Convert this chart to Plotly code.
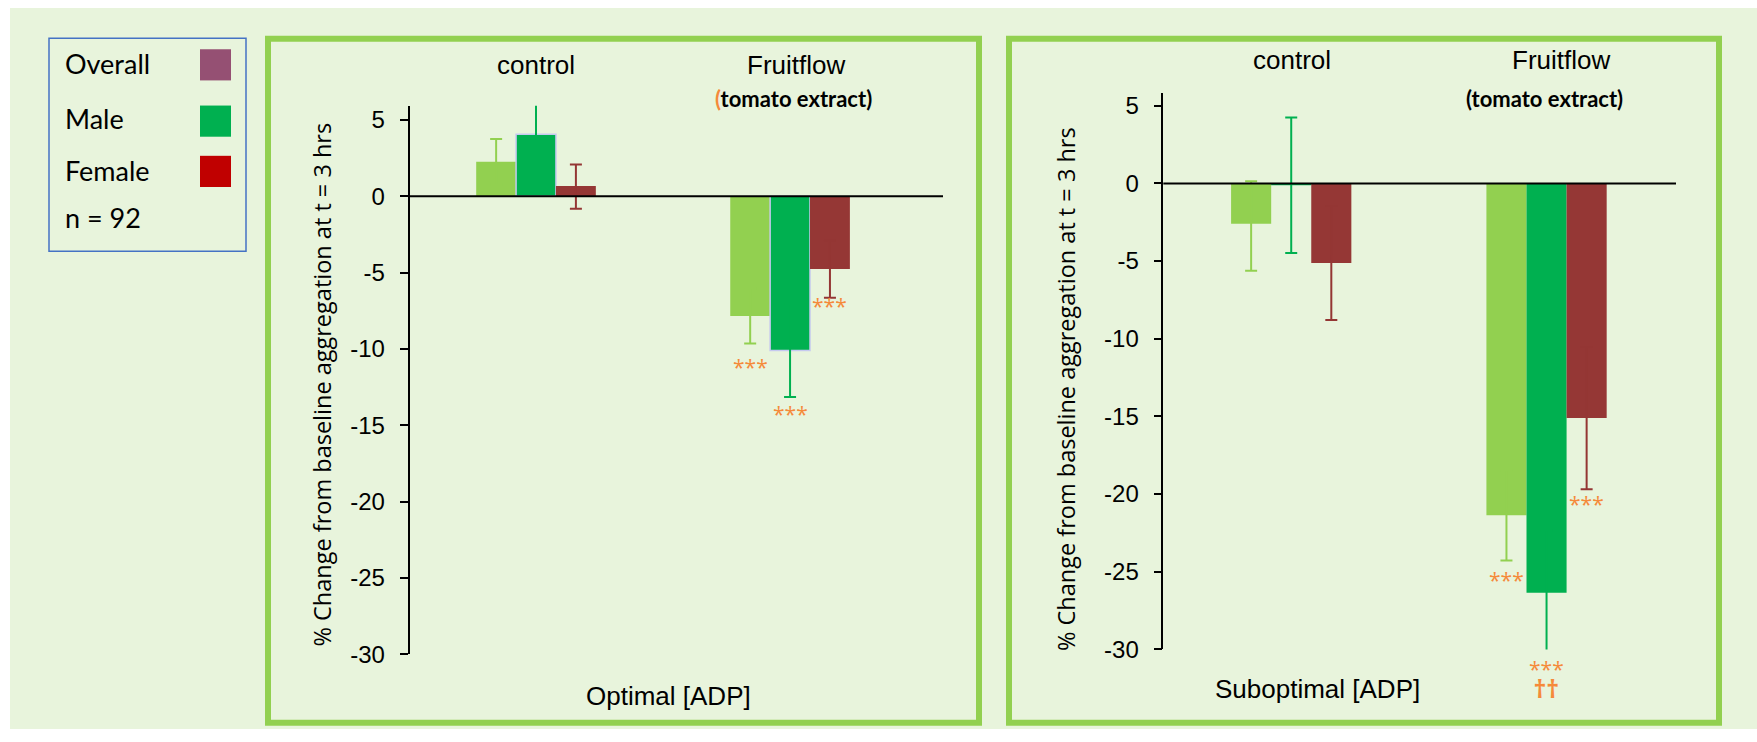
import plotly.graph_objects as go

W, H = 1757, 742
# the photographed page is squeezed vertically by about this factor; pre-stretch layout positions
KY = 0.976

# ---------------- data ----------------
categories = ["control", "Fruitflow"]
series_names = ["Overall", "Male", "Female"]
tick_values = [5, 0, -5, -10, -15, -20, -25, -30]
tick_labels = ["5", "0", "-5", "-10", "-15", "-20", "-25", "-30"]

# Optimal [ADP]
opt_overall = [2.26, -7.84]
opt_overall_up = [1.49, 1.80]
opt_overall_dn = [1.49, 1.80]
opt_male = [4.06, -10.10]
opt_male_up = [2.60, 3.05]
opt_male_dn = [2.60, 3.05]
opt_female = [0.68, -4.77]
opt_female_up = [1.40, 1.88]
opt_female_dn = [1.49, 1.88]

# Suboptimal [ADP]
sub_overall = [-2.60, -21.37]
sub_overall_up = [2.74, 2.91]
sub_overall_dn = [3.02, 2.91]
sub_male = [-0.12, -26.36]
sub_male_up = [4.36, 4.00]
sub_male_dn = [4.36, 4.00]
sub_female = [-5.12, -15.11]
sub_female_up = [3.67, 4.58]
sub_female_dn = [3.67, 4.58]

# significance marks (Fruitflow group): label heights in data units
opt_sig_text = ["***", "***", "***"]
opt_sig_y = [-11.3, -14.35, -7.3]
sub_sig_text = ["***", "***<br>††", "***"]
sub_sig_y = [-25.6, -31.4, -20.74]

legend_labels = ["Overall", "Male", "Female"]
legend_colors = ["#955073", "#00B050", "#C00000"]
n_label = "n = 92"

# ---------------- styles ----------------
bar_colors = ["#92D050", "#00B050", "#953735"]
err_colors = ["#92D050", "#00B050", "#943634"]
orange = "#F58A3A"
panel_green = "#92D050"
bg_green = "#E8F4DC"
ARIAL = "Liberation Sans, Arial, sans-serif"
SANS = "Open Sans, Noto Sans, sans-serif"
CAL = "Lato, Open Sans, sans-serif"

BARGAP = 0.529
BW = (1 - BARGAP) / 3  # bar width in category units


def px(x):
    return x / W


def py(y):
    return 1 - (y / KY) / H


panels = [
    dict(xa="x", ya="y", xdom=[409.5, 943], ydom=[104.3, 650], xr=[-0.498, 1.602], yr=[-30, 5.92],
         data=[(opt_overall, opt_overall_up, opt_overall_dn),
               (opt_male, opt_male_up, opt_male_dn),
               (opt_female, opt_female_up, opt_female_dn)],
         male_outline=True),
    dict(xa="x2", ya="y2", xdom=[1163.3, 1676], ydom=[91.7, 645], xr=[-0.501, 1.507], yr=[-30, 5.81],
         data=[(sub_overall, sub_overall_up, sub_overall_dn),
               (sub_male, sub_male_up, sub_male_dn),
               (sub_female, sub_female_up, sub_female_dn)],
         male_outline=False),
]

fig = go.Figure()
for p in panels:
    for i, (vals, up, dn) in enumerate(p["data"]):
        line = dict(width=0)
        if series_names[i] == "Male" and p["male_outline"]:
            line = dict(color="#C6C9F0", width=1.5)
        fig.add_trace(go.Bar(
            x=categories, y=vals, name=series_names[i], xaxis=p["xa"], yaxis=p["ya"],
            marker=dict(color=bar_colors[i], line=line),
            error_y=dict(type="data", symmetric=False, array=up, arrayminus=dn,
                         color=err_colors[i], thickness=2, width=6),
            showlegend=False,
        ))

axis_common_x = dict(type="category", showticklabels=False, showline=False, showgrid=False,
                     zeroline=False, ticks="", fixedrange=True)
axis_common_y = dict(tickvals=tick_values, ticktext=tick_labels, showline=True, linecolor="black",
                     linewidth=1.5, ticks="outside", ticklen=8, tickwidth=1.5, tickcolor="black",
                     showgrid=False, zeroline=False, ticklabelstandoff=10,
                     tickfont=dict(family=ARIAL, size=24, color="black"))
layout = dict(width=W, height=H, margin=dict(l=0, r=0, t=0, b=0), autosize=False,
              paper_bgcolor="white", plot_bgcolor="rgba(0,0,0,0)",
              barmode="group", bargap=BARGAP, bargroupgap=0, showlegend=False)
for k, p in enumerate(panels):
    sfx = "" if k == 0 else "2"
    layout["xaxis" + sfx] = dict(axis_common_x, domain=[px(p["xdom"][0]), px(p["xdom"][1])], range=p["xr"],
                                 anchor="y" + sfx)
    layout["yaxis" + sfx] = dict(axis_common_y, domain=[py(p["ydom"][1]), py(p["ydom"][0])], range=p["yr"],
                                 anchor="x" + sfx)
fig.update_layout(**layout)

shapes = []
# page background
shapes.append(dict(type="rect", xref="paper", yref="paper", x0=px(10), x1=1, y0=0, y1=py(7),
                   fillcolor=bg_green, line=dict(width=0), layer="below"))
# panel borders
for x0, x1 in [(268, 979), (1009, 1719)]:
    shapes.append(dict(type="rect", xref="paper", yref="paper", x0=px(x0), x1=px(x1), y0=py(718), y1=py(37.5),
                       line=dict(color=panel_green, width=6), fillcolor="rgba(0,0,0,0)", layer="below"))
# legend box and swatches
shapes.append(dict(type="rect", xref="paper", yref="paper", x0=px(49), x1=px(246), y0=py(249), y1=py(37),
                   line=dict(color="#4472C4", width=1.5), fillcolor="rgba(0,0,0,0)"))
for yc, col in zip([63.5, 119.5, 169.5], legend_colors):
    shapes.append(dict(type="rect", xref="paper", yref="paper", x0=px(200), x1=px(231),
                       y0=py(yc + 15.5), y1=py(yc - 15.5), fillcolor=col, line=dict(width=0)))
# zero lines
for p in panels:
    shapes.append(dict(type="line", xref=p["xa"] + " domain", yref=p["ya"], x0=0, x1=1, y0=0, y1=0,
                       line=dict(color="black", width=2), layer="above"))
fig.update_layout(shapes=shapes)

ann = []
for lab, yc in zip(legend_labels + [n_label], [62.5, 116.5, 168.5, 215]):
    ann.append(dict(text=lab, xref="paper", yref="paper", x=px(63), y=py(yc), xanchor="left", yanchor="middle",
                    showarrow=False, font=dict(family=CAL, size=27, color="black")))
for p, txt, ci, xs, yc in [(panels[0], "control", 0, 0, 64), (panels[0], "Fruitflow", 1, 5.5, 64),
                           (panels[1], "control", 0, 1, 58.5), (panels[1], "Fruitflow", 1, 14.5, 58.5)]:
    ann.append(dict(text=txt, xref=p["xa"], yref="paper", x=ci, xshift=xs, y=py(yc), yanchor="middle",
                    showarrow=False, font=dict(family=ARIAL, size=26, color="black")))
ann.append(dict(text="<b><span style='color:%s'>(</span>tomato extract)</b>" % orange, xref="x", yref="paper",
                x=1, xshift=3, y=py(97), yanchor="middle", showarrow=False,
                font=dict(family=CAL, size=22, color="black")))
ann.append(dict(text="<b>(tomato extract)</b>", xref="x2", yref="paper", x=1, xshift=-2.5, y=py(96.5),
                yanchor="middle", showarrow=False, font=dict(family=CAL, size=22, color="black")))
ytitle = "% Change from baseline aggregation at t = 3 hrs"
for xc, yc in [(322.5, 382), (1066, 386)]:
    ann.append(dict(text=ytitle, xref="paper", yref="paper", x=px(xc), y=py(yc), textangle=-90,
                    xanchor="center", yanchor="middle", showarrow=False,
                    font=dict(family=SANS, size=23.5, color="black")))
ann.append(dict(text="Optimal [ADP]", xref="paper", yref="paper", x=px(668), y=py(691), yanchor="middle",
                showarrow=False, font=dict(family=ARIAL, size=26, color="black")))
ann.append(dict(text="Suboptimal [ADP]", xref="paper", yref="paper", x=px(1422), y=py(684), yanchor="middle",
                showarrow=False, font=dict(family=ARIAL, size=26, color="black")))


def dom_frac(p, v):
    lo, hi = p["yr"]
    return (v - lo) / (hi - lo)


for p, texts, ys in [(panels[0], opt_sig_text, opt_sig_y), (panels[1], sub_sig_text, sub_sig_y)]:
    for i, (t, v) in enumerate(zip(texts, ys)):
        if "<br>" in t:
            first, second = t.split("<br>")
            txt = ("<span style='font-size:21px'>%s</span><br>"
                   "<b><span style='font-size:25px'>%s</span></b>" % (first, second))
            ann.append(dict(text=txt, xref=p["xa"], yref=p["ya"] + " domain", x=1 + (i - 1) * BW,
                            y=dom_frac(p, v), yanchor="middle", yshift=-9, showarrow=False,
                            font=dict(family=SANS, size=16, color=orange)))
        else:
            ann.append(dict(text=t, xref=p["xa"], yref=p["ya"] + " domain", x=1 + (i - 1) * BW,
                            y=dom_frac(p, v), yanchor="middle", yshift=1.5, showarrow=False,
                            font=dict(family=SANS, size=21, color=orange)))
fig.update_layout(annotations=ann)

fig.write_html("out.html")
